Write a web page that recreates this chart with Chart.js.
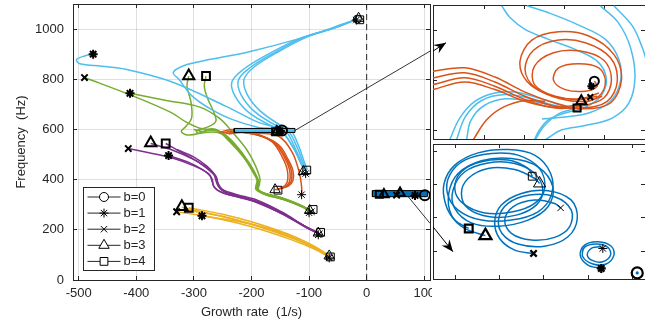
<!DOCTYPE html>
<html>
<head>
<meta charset="utf-8">
<script src="https://cdn.jsdelivr.net/npm/chart.js@4.4.1/dist/chart.umd.min.js"></script>
<style>
  html, body { margin: 0; padding: 0; background: #fff; }
  #wrap { position: relative; width: 645px; height: 328px; overflow: hidden; }
  canvas { position: absolute; }
</style>
</head>
<body>
<div id="wrap">
  <canvas id="main" width="432" height="328" style="left:0;top:0"></canvas>
  <canvas id="zoomTop" width="214" height="136" style="left:432px;top:4px"></canvas>
  <canvas id="zoomBottom" width="214" height="137" style="left:432px;top:143px"></canvas>
</div>
<script>
// ---- ticks and legend ----
const growthTicks = [-500, -400, -300, -200, -100, 0, 100];
const freqTicks = [0, 200, 400, 600, 800, 1000];
const legendLabels = ['b=0', 'b=1', 'b=2', 'b=3', 'b=4'];
const legendStyles = ['circle', 'star', 'crossRot', 'triangle', 'rect'];

// ---- eigenvalue paths, [growth rate, frequency] ----
const cyanA = [[-475,900],[-490,893],[-504,878],[-498,862],[-460,852],[-419,840],[-339,790],[-244,692],[-188,628],[-152,600],[-128,530],[-113,460],[-106,436]];
const cyanB = [[-16,1040],[-60,1005],[-117,962],[-204,910],[-291,870],[-322,850],[-336,826],[-326,800],[-304,735],[-270,680],[-234,640],[-188,608],[-150,596],[-128,530],[-114,465],[-108,438]];
const cyanC = [[-16,1040],[-59,1002],[-117,962],[-175,895],[-215,838],[-234,790],[-229,735],[-205,668],[-165,614],[-142,598],[-124,525],[-112,462],[-106,436]];
const cyanD = [[-16,1040],[-55,1005],[-110,966],[-165,900],[-205,842],[-223,795],[-218,738],[-195,672],[-158,616],[-137,597],[-120,525],[-110,465],[-104,438]];
const cyanE = [[-16,1040],[-52,1008],[-104,968],[-157,905],[-196,848],[-213,800],[-208,742],[-186,676],[-152,620],[-132,598],[-117,528],[-108,468],[-103,440]];

const orangeA = [[-256,588],[-234,600],[-192,582],[-164,550],[-147,492],[-138,440],[-138,390],[-147,368],[-159,360]];
const orangeB = [[-250,586],[-228,594],[-188,578],[-160,545],[-143,490],[-134,440],[-134,392],[-143,370],[-157,360]];
const orangeC = [[-245,584],[-222,590],[-184,574],[-156,540],[-140,486],[-131,438],[-131,394],[-140,372],[-155,362]];
const orangeD = [[-240,582],[-215,588],[-180,572],[-152,537],[-137,483],[-128,436],[-128,396],[-136,374],[-152,364]];
const orangeE = [[-230,590],[-190,585],[-152,572],[-129,508],[-117,428],[-113,372],[-113,340]];

const greenAst = [[-411,744],[-350,716],[-291,690],[-256,645],[-234,592],[-209,522],[-193,455],[-185,396],[-190,370],[-182,350],[-150,330],[-118,302],[-97,276]];
const greenX = [[-490,807],[-411,738],[-340,668],[-314,630],[-290,605],[-268,598],[-250,586],[-228,540],[-205,470],[-190,405],[-192,368],[-178,346],[-146,326],[-115,298],[-95,274]];
const greenTri = [[-309,813],[-312,772],[-305,708],[-304,645],[-314,612],[-322,592],[-312,578],[-290,585],[-272,602],[-258,596],[-240,556],[-214,490],[-197,428],[-189,390],[-193,364],[-180,344],[-148,324],[-116,296],[-94,271]];
const greenSq = [[-279,813],[-282,772],[-276,722],[-266,672],[-262,632],[-278,608],[-296,595],[-292,585],[-268,590],[-252,582],[-232,540],[-210,480],[-195,425],[-187,390],[-190,362],[-177,342],[-145,322],[-113,294],[-93,270]];
const greenO = [[-300,600],[-285,592],[-262,598],[-245,575],[-222,520],[-203,460],[-191,410],[-186,385],[-188,360],[-175,340],[-143,320],[-112,292],[-92,268]];

const purpleX = [[-414,524],[-380,508],[-340,488],[-300,455],[-275,425],[-268,400],[-266,375],[-255,352],[-230,335],[-195,315],[-150,270],[-110,218],[-84,188]];
const purpleAst = [[-344,496],[-310,470],[-285,440],[-272,415],[-268,390],[-264,368],[-250,348],[-222,330],[-190,308],[-145,262],[-105,212],[-82,184]];
const purpleTri = [[-375,544],[-340,520],[-300,480],[-275,445],[-262,415],[-258,385],[-250,360],[-225,340],[-190,318],[-145,268],[-108,215],[-83,186]];
const purpleSq = [[-349,544],[-321,508],[-291,468],[-262,412],[-257,372],[-248,352],[-222,332],[-192,312],[-148,265],[-106,210],[-81,182]];
const purpleO = [[-330,520],[-300,490],[-278,455],[-266,425],[-262,398],[-257,372],[-242,350],[-212,328],[-182,306],[-140,258],[-103,208],[-82,185]];

const yellowX = [[-330,272],[-270,250],[-200,212],[-130,160],[-90,122],[-65,92]];
const yellowTri = [[-321,290],[-260,258],[-195,220],[-125,165],[-88,125],[-65,94]];
const yellowSq = [[-309,288],[-250,262],[-190,225],[-122,170],[-86,128],[-64,96]];
const yellowAst = [[-286,256],[-230,236],[-170,205],[-115,160],[-84,124],[-66,90]];
const yellowO = [[-318,280],[-255,256],[-195,218],[-128,165],[-89,124],[-65,93]];

// markers at the ends of the paths
const startStars = [[-475,900],[-411,744],[-344,496],[-286,256]];
const startCrosses = [[-490,807],[-414,524],[-330,272]];
const startTriangles = [[-309,813],[-375,546],[-321,292]];
const startSquares = [[-279,813],[-349,544],[-309,288]];
const endCircles = [[-16,1040]];
const endStars = [[-18,1036],[-106,424],[-113,340],[-100,268],[-84,180],[-65,88]];
const endCrosses = [[-112,428],[-96,272],[-82,184],[-66,92]];
const endTriangles = [[-14,1043],[-110,432],[-159,360],[-99,277],[-84,187],[-65,96]];
const endSquares = [[-12,1037],[-104,438],[-154,358],[-93,281],[-80,190],[-63,92]];
const boxCircles = [[-147,596],[101,338]];
const boxStars = [[-150,594],[84,337]];
const boxCrosses = [[-152,593],[52,338]];
const boxTriangles = [[-156,592],[30,341],[58,347]];
const boxSquares = [[-158,591],[22,342]];

// zoom windows
const upperWindow = { x: [-230, -124.5], y: [588, 604] };
const lowerWindow = { x: [10, 105.5], y: [332, 356.3] };
const upperLink = [[-124.5,596],[110,912]];
const lowerLink = [[70,338],[110,226]];

// upper zoom: paths near the 590 Hz crossing
const zoomOrange1 = [[-230.0,596.1],[-214.2,596.5],[-199.2,595.4],[-184.2,593.6],[-169.2,592.3],[-155.0,591.6],[-141.7,592.3],[-136.2,595.1],[-140.0,598.1],[-152.5,600.3],[-167.5,600.8],[-180.8,599.8],[-186.7,597.3],[-183.3,594.9],[-172.5,593.3],[-158.3,592.7],[-148.3,593.1]];
const zoomOrange2 = [[-230.0,595.3],[-214.2,595.9],[-199.2,594.8],[-184.2,593.1],[-169.2,591.9],[-155.8,591.7],[-143.3,592.5],[-138.3,594.9],[-141.7,597.7],[-154.2,599.5],[-168.3,599.8],[-180.0,598.6],[-184.2,596.3],[-179.5,594.2],[-166.7,592.8],[-154.2,592.5],[-145.8,593.1]];
const zoomOrange3 = [[-230.0,594.5],[-214.2,595.3],[-199.2,594.3],[-184.2,592.7],[-169.2,591.7],[-156.7,591.9],[-145.0,592.9],[-141.2,595.1],[-145.0,597.4],[-156.7,598.5],[-170.0,598.3],[-179.5,596.7],[-179.5,594.5],[-169.2,593.1],[-156.7,592.8],[-147.5,593.5]];
const zoomOrange4 = [[-230.0,593.9],[-214.2,594.8],[-199.2,593.9],[-184.2,592.5],[-170.8,591.8],[-158.3,592.1],[-147.5,593.1],[-144.2,594.9],[-147.5,596.5],[-157.5,597.0],[-167.5,596.5],[-170.0,595.0],[-164.2,593.9],[-154.2,593.7],[-148.3,594.3],[-149.7,594.9]];
const zoomOrange5 = [[-210.0,587.9],[-203.3,590.3],[-195.0,591.8],[-184.2,592.6],[-174.2,592.5]];
const zoomCyan1 = [[-195.8,603.9],[-191.7,602.5],[-184.2,601.1],[-172.5,599.9],[-159.2,598.7],[-148.3,597.3],[-143.8,595.3],[-146.2,593.2],[-154.2,591.8],[-164.2,591.1],[-172.5,590.3],[-177.5,588.9],[-179.5,587.9]];
const zoomCyan2 = [[-183.3,603.9],[-171.7,603.0],[-157.5,601.6],[-144.2,599.9],[-137.5,597.5],[-136.7,594.9],[-141.7,592.5],[-152.5,591.1],[-165.8,590.6],[-175.8,590.4]];
const zoomCyan3 = [[-146.7,603.9],[-137.8,601.9],[-131.7,598.9],[-129.5,595.3],[-132.5,592.3],[-140.8,590.5],[-154.2,589.6],[-165.8,589.1],[-174.2,587.9]];
const zoomCyan4 = [[-140.0,603.9],[-130.8,601.5],[-125.8,598.9],[-124.2,597.7]];
const zoomCyan5 = [[-221.7,587.9],[-216.7,590.5],[-209.2,592.5],[-199.2,593.5],[-189.2,593.6],[-177.5,592.9],[-165.8,592.0],[-157.5,591.7]];
const zoomCyan6 = [[-218.3,587.9],[-213.8,590.7],[-205.8,592.6],[-194.2,593.3],[-182.5,592.9],[-169.2,592.0],[-159.2,591.6]];
const zoomCyan7 = [[-213.3,587.9],[-211.2,590.2],[-204.5,592.0],[-193.8,592.8],[-180.8,592.5],[-167.5,591.8]];
const zoomCyan8 = [[-179.2,587.9],[-174.5,589.6],[-167.5,591.0],[-158.3,591.7]];
const upperArrow = [[-230.0,598.5],[-223.5,599.5]];
const upperMarks = { circle: [[-149.7,594.9]], star: [[-151.2,594.3]], crossRot: [[-151.7,593.0]], triangle: [[-156.2,592.5]], rect: [[-158.3,591.7]] };

// lower zoom: the unstable mode
const zoomSpiralSquare = [[26.1,341.1],[19.8,342.6],[15.6,345.6],[15.0,349.2],[19.8,352.5],[30.3,354.7],[43.8,355.3],[55.8,354.3],[63.0,351.0],[63.3,347.1],[57.3,344.1],[45.3,342.6],[31.8,342.6],[21.3,344.4],[16.5,347.4],[17.5,350.7],[24.3,353.4],[36.3,354.6],[48.3,354.3],[58.0,351.9],[60.3,348.3],[55.8,345.6],[46.0,344.1],[33.3,343.9],[23.5,345.6],[19.8,348.3],[22.8,351.3],[31.8,353.1],[43.8,353.4],[52.8,351.9],[54.7,350.5]];
const zoomSpiralTriangle = [[33.6,339.8],[24.3,341.1],[18.3,343.5],[17.1,347.4],[21.3,351.0],[31.8,353.3],[45.3,353.7],[57.3,352.2],[64.0,348.6],[61.8,345.0],[52.8,342.6],[39.3,341.5],[27.3,342.1],[19.8,344.7],[19.0,348.0],[24.3,351.3],[34.8,352.9],[46.8,352.8],[55.8,351.0],[59.5,348.0],[56.5,345.3],[47.5,343.5],[35.5,343.2],[25.8,344.7],[22.8,347.4],[25.8,350.1],[34.8,351.9],[46.8,351.7],[55.8,350.1],[58.0,349.2]];
const zoomSpiralCross = [[55.3,336.6],[46.8,337.2],[40.0,339.3],[37.8,342.3],[40.8,345.3],[49.8,347.4],[61.8,347.9],[72.3,346.2],[75.0,342.9],[70.8,339.6],[60.3,337.9],[48.3,338.3],[41.1,340.2],[39.6,342.9],[43.8,345.6],[53.5,347.1],[64.8,346.8],[72.3,344.4],[71.5,341.4],[64.8,339.5],[54.3,339.0],[45.3,340.2],[42.3,342.6],[46.0,345.0],[55.8,346.2],[64.8,345.6],[67.5,344.8]];
const zoomSpiralStar = [[85.8,333.9],[79.8,334.5],[76.3,336.3],[78.3,338.1],[84.3,338.7],[90.3,337.9],[91.5,336.3],[88.0,334.7],[82.0,334.7],[77.5,336.0],[78.3,337.7],[83.5,338.3],[88.8,337.7],[90.0,336.3],[86.5,335.1],[82.0,335.3],[79.5,336.3],[81.3,337.5],[85.0,337.8],[86.5,337.5]];
const lowerArrow = [[10.0,341.4],[19.0,336.9]];
const lowerStartMarks = { circle: [[102.0,333.1]], star: [[85.8,333.9]], crossRot: [[55.3,336.6]], triangle: [[33.6,339.8]], rect: [[26.1,341.1]] };
const lowerEndMarks = { star: [[86.5,337.5]], crossRot: [[67.5,344.8]], triangle: [[58.0,349.2]], rect: [[54.7,350.5]] };

const upperTicksX = [-204.5, -184.5, -164.5, -144.5];
const upperTicksY = [589, 595, 601];
const lowerTicksX = [20, 40, 60, 80, 100];
const lowerTicksY = [337, 343, 349, 355];

// ---- styling ----
const CYAN = '#4DBEEE', ORANGE = '#D95319', GREEN = '#77AC30';
const PURPLE = '#7E2F8E', YELLOW = '#EDB120', BLUE = '#0072BD';
const AXIS = '#262626', GRID = 'rgba(0,0,0,0.12)';
const FONT = '"Liberation Sans", Arial, Helvetica, sans-serif';
Chart.defaults.font.family = FONT;

const path = (data, color, order = 4) => ({
  data, borderColor: color, borderWidth: 1.5, showLine: true,
  pointRadius: 0, tension: 0.35, order
});
const marks = (data, style, radius, width) => ({
  data, showLine: false, pointStyle: style, pointRadius: radius,
  pointBorderWidth: width, pointBorderColor: '#000',
  pointBackgroundColor: 'rgba(0,0,0,0)', order: 0
});
const rectOutline = w => [[w.x[0], w.y[0]], [w.x[1], w.y[0]], [w.x[1], w.y[1]], [w.x[0], w.y[1]], [w.x[0], w.y[0]]];
const fixedTicks = list => s => { s.ticks = list.map(v => ({ value: v })); };

// pin an axis to a given thickness and drop the label overhang padding
const pinSize = (horizontal, size) => s => {
  if (horizontal) s.height = size; else s.width = size;
  s.paddingTop = s.paddingBottom = s.paddingLeft = s.paddingRight = 0;
};

function boxAxis(pos, range, list, size) {
  return {
    type: 'linear', position: pos, min: range[0], max: range[1],
    afterBuildTicks: fixedTicks(list),
    afterFit: pinSize(pos === 'top' || pos === 'bottom', size),
    grid: { drawOnChartArea: false, tickColor: AXIS, tickLength: -4 },
    border: { color: AXIS, width: 1 },
    ticks: { display: false }
  };
}

// arrowheads drawn at the end of datasets flagged with `arrow`
const arrowHeads = {
  id: 'arrowHeads',
  afterDatasetsDraw(chart) {
    const ctx = chart.ctx;
    chart.data.datasets.forEach((ds, i) => {
      if (!ds.arrow) return;
      const pts = chart.getDatasetMeta(i).data;
      const a = pts[pts.length - 2], b = pts[pts.length - 1];
      const ang = Math.atan2(b.y - a.y, b.x - a.x);
      ctx.save();
      ctx.translate(b.x, b.y);
      ctx.rotate(ang);
      ctx.beginPath();
      ctx.moveTo(0, 0);
      ctx.lineTo(-12, -5);
      ctx.lineTo(-8, 0);
      ctx.lineTo(-12, 5);
      ctx.closePath();
      ctx.fillStyle = '#000';
      ctx.fill();
      ctx.restore();
    });
  }
};

// boxed legend in the lower left of the main axes
const boxLegend = {
  id: 'boxLegend',
  afterDatasetsDraw(chart) {
    const { ctx, chartArea } = chart;
    const x0 = Math.round(chartArea.left + 10) + 0.5, y0 = Math.round(chartArea.bottom - 93) + 0.5;
    const w = 71, h = 83;
    ctx.save();
    ctx.fillStyle = '#fff';
    ctx.fillRect(x0, y0, w, h);
    ctx.strokeStyle = AXIS;
    ctx.lineWidth = 1;
    ctx.strokeRect(x0, y0, w, h);
    legendLabels.forEach((lab, i) => {
      const y = y0 + 9.5 + i * 16.1;
      ctx.strokeStyle = AXIS;
      ctx.lineWidth = 1;
      ctx.beginPath();
      ctx.moveTo(x0 + 4, y);
      ctx.lineTo(x0 + 37, y);
      ctx.stroke();
      ctx.fillStyle = '#fff';
      ctx.strokeStyle = '#000';
      const r = legendStyles[i] === 'rect' ? 5.5 : legendStyles[i] === 'triangle' ? 6 : 4.5;
      Chart.helpers.drawPoint(ctx, { pointStyle: legendStyles[i], radius: r, borderWidth: 1, rotation: 0 }, x0 + 20.5, y);
      ctx.fillStyle = AXIS;
      ctx.font = '13px ' + FONT;
      ctx.textBaseline = 'middle';
      ctx.textAlign = 'left';
      ctx.fillText(lab, x0 + 40, y);
    });
    ctx.restore();
  }
};

// ---- main axes ----
new Chart(document.getElementById('main'), {
  type: 'scatter',
  data: {
    datasets: [
      marks(startStars, 'star', 4.5, 2),
      marks(startCrosses, 'crossRot', 4.5, 2),
      marks(startTriangles, 'triangle', 6.5, 2),
      marks(startSquares, 'rect', 5.5, 2),
      marks(endCircles, 'circle', 4, 1),
      marks(endStars, 'star', 4.5, 1),
      marks(endCrosses, 'crossRot', 4.5, 1),
      marks(endTriangles, 'triangle', 6, 1),
      marks(endSquares, 'rect', 5.5, 1),
      marks(boxCircles, 'circle', 5, 2),
      marks(boxStars, 'star', 4.5, 2),
      marks(boxCrosses, 'crossRot', 4.5, 2),
      marks(boxTriangles, 'triangle', 5.5, 2),
      marks(boxSquares, 'rect', 5, 2),
      { data: rectOutline(upperWindow), borderColor: '#000', borderWidth: 1, showLine: true, pointRadius: 0, tension: 0, order: 1 },
      { data: rectOutline(lowerWindow), borderColor: '#000', borderWidth: 1, showLine: true, pointRadius: 0, tension: 0, order: 1 },
      { data: [[upperWindow.x[0], upperWindow.y[1]], [upperWindow.x[1], upperWindow.y[1]]], borderWidth: 0, showLine: true, pointRadius: 0, tension: 0, fill: { value: upperWindow.y[0] }, backgroundColor: CYAN, order: 2 },
      { data: [[lowerWindow.x[0], lowerWindow.y[1]], [lowerWindow.x[1], lowerWindow.y[1]]], borderWidth: 0, showLine: true, pointRadius: 0, tension: 0, fill: { value: lowerWindow.y[0] }, backgroundColor: BLUE, order: 2 },
      { data: upperLink, borderColor: '#000', borderWidth: 0.8, showLine: true, pointRadius: 0, tension: 0, order: 3 },
      { data: lowerLink, borderColor: '#000', borderWidth: 0.8, showLine: true, pointRadius: 0, tension: 0, order: 3 },
      { data: [[0, 0], [0, 1100]], borderColor: AXIS, borderWidth: 1, borderDash: [6, 4], showLine: true, pointRadius: 0, tension: 0, order: 3 },
      path(cyanA, CYAN), path(cyanB, CYAN), path(cyanC, CYAN), path(cyanD, CYAN), path(cyanE, CYAN),
      path(orangeA, ORANGE), path(orangeB, ORANGE), path(orangeC, ORANGE), path(orangeD, ORANGE), path(orangeE, ORANGE),
      path(greenAst, GREEN), path(greenX, GREEN), path(greenTri, GREEN), path(greenSq, GREEN), path(greenO, GREEN),
      path(purpleX, PURPLE), path(purpleAst, PURPLE), path(purpleTri, PURPLE), path(purpleSq, PURPLE), path(purpleO, PURPLE),
      path(yellowX, YELLOW), path(yellowTri, YELLOW), path(yellowSq, YELLOW), path(yellowAst, YELLOW), path(yellowO, YELLOW)
    ]
  },
  options: {
    responsive: false,
    animation: false,
    events: [],
    layout: { autoPadding: false, padding: { top: 4, right: 2, left: 0, bottom: 0 } },
    plugins: { legend: { display: false }, tooltip: { enabled: false } },
    scales: {
      x: {
        type: 'linear', position: 'bottom', min: -510, max: 110,
        afterBuildTicks: fixedTicks(growthTicks),
        afterFit: pinSize(true, 48),
        grid: { color: GRID, tickColor: AXIS, tickLength: -4 },
        border: { color: AXIS, width: 1 },
        ticks: { padding: 10, color: AXIS, font: { size: 13 }, maxRotation: 0, autoSkip: false, callback: v => String(v) },
        title: { display: true, text: 'Growth rate  (1/s)', color: AXIS, font: { size: 13 }, padding: { top: 0, bottom: 8 } }
      },
      y: {
        type: 'linear', position: 'left', min: 0, max: 1100,
        afterBuildTicks: fixedTicks(freqTicks),
        afterFit: pinSize(false, 73),
        grid: { color: GRID, tickColor: AXIS, tickLength: -4 },
        border: { color: AXIS, width: 1 },
        ticks: { padding: 13, color: AXIS, font: { size: 13 }, autoSkip: false, callback: v => String(v) },
        title: { display: true, text: 'Frequency  (Hz)', color: AXIS, font: { size: 13 }, padding: { top: 14, bottom: 0 } }
      },
      x2: boxAxis('top', [-510, 110], growthTicks, 0),
      y2: boxAxis('right', [0, 1100], freqTicks, 0)
    }
  },
  plugins: [boxLegend]
});

// ---- zoom panels ----
function zoomPanel(id, win, ticksX, ticksY, datasets) {
  return new Chart(document.getElementById(id), {
    type: 'scatter',
    data: { datasets },
    options: {
      responsive: false,
      animation: false,
      events: [],
      layout: { autoPadding: false, padding: 1 },
      plugins: { legend: { display: false }, tooltip: { enabled: false } },
      scales: {
        x: boxAxis('bottom', win.x, ticksX, 0),
        y: boxAxis('left', win.y, ticksY, 0),
        x2: boxAxis('top', win.x, ticksX, 0),
        y2: boxAxis('right', win.y, ticksY, 0)
      }
    },
    plugins: [arrowHeads]
  });
}

const markSet = (set, sizes, width) => Object.keys(set).map(k => marks(set[k], k, sizes[k], width));
const markSizes = { circle: 4.5, star: 4, crossRot: 4, triangle: 6, rect: 5 };

zoomPanel('zoomTop', upperWindow, upperTicksX, upperTicksY, [
  ...markSet(upperMarks, markSizes, 2),
  { data: upperArrow, borderColor: '#000', borderWidth: 1, showLine: true, pointRadius: 0, tension: 0, arrow: true, order: 1 },
  path(zoomOrange1, ORANGE), path(zoomOrange2, ORANGE), path(zoomOrange3, ORANGE), path(zoomOrange4, ORANGE), path(zoomOrange5, ORANGE),
  path(zoomCyan1, CYAN, 5), path(zoomCyan2, CYAN, 5), path(zoomCyan3, CYAN, 5), path(zoomCyan4, CYAN, 5),
  path(zoomCyan5, CYAN, 5), path(zoomCyan6, CYAN, 5), path(zoomCyan7, CYAN, 5), path(zoomCyan8, CYAN, 5)
]);

zoomPanel('zoomBottom', lowerWindow, lowerTicksX, lowerTicksY, [
  { data: lowerStartMarks.circle, showLine: false, pointStyle: 'circle', pointRadius: 1.6, pointBorderWidth: 0, pointBackgroundColor: BLUE, order: 0 },
  ...markSet(lowerStartMarks, { circle: 5.5, star: 4.5, crossRot: 4.5, triangle: 7, rect: 5.5 }, 2.2),
  ...markSet(lowerEndMarks, { star: 4.5, crossRot: 4.5, triangle: 7, rect: 5.5 }, 1),
  { data: lowerArrow, borderColor: '#000', borderWidth: 1, showLine: true, pointRadius: 0, tension: 0, arrow: true, order: 1 },
  path(zoomSpiralSquare, BLUE), path(zoomSpiralTriangle, BLUE), path(zoomSpiralCross, BLUE), path(zoomSpiralStar, BLUE)
]);
</script>
</body>
</html>
